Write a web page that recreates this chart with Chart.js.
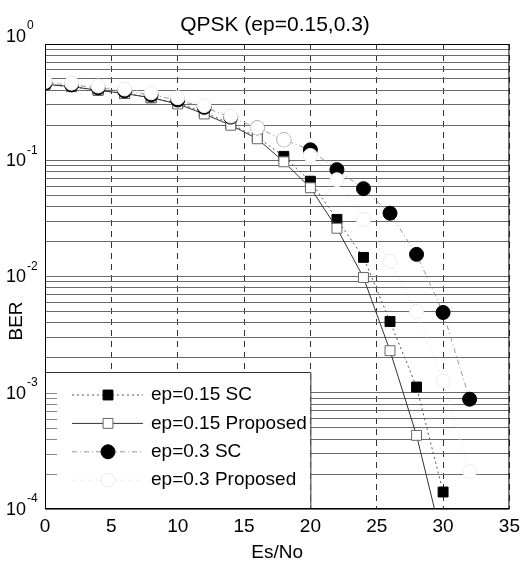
<!DOCTYPE html>
<html>
<head>
<meta charset="utf-8">
<script src="https://cdn.jsdelivr.net/npm/chart.js@4"></script>
<style>
  html, body { margin: 0; padding: 0; background: #fff; }
</style>
</head>
<body>
<canvas id="grafico" width="526" height="561"></canvas>
<script>
const ctx = document.getElementById('grafico').getContext('2d');
const FONTE = '"Liberation Sans", Arial, Helvetica, sans-serif';

// Es/No (dB)
const esno = [0, 2, 4, 6, 8, 10, 12, 14, 16, 18, 20, 22, 24, 26, 28, 30, 32];

// BER
const sc015   = [0.45, 0.43, 0.40, 0.375, 0.345, 0.31, 0.26, 0.205, 0.158, 0.108, 0.066, 0.031, 0.0146, 0.0041, 0.00112, 0.00014];
const prop015 = [0.45, 0.43, 0.40, 0.375, 0.345, 0.305, 0.25, 0.20, 0.153, 0.097, 0.058, 0.026, 0.0098, 0.0023, 0.00043, 0.00005];
const sc03    = [0.46, 0.445, 0.42, 0.395, 0.365, 0.33, 0.285, 0.235, 0.19, 0.15, 0.123, 0.083, 0.057, 0.035, 0.0155, 0.0049, 0.00088];
const prop03  = [0.475, 0.46, 0.435, 0.41, 0.38, 0.345, 0.295, 0.24, 0.19, 0.15, 0.11, 0.068, 0.031, 0.0135, 0.005, 0.00126, 0.00021];

const nomes = ['ep=0.15 SC', 'ep=0.15 Proposed', 'ep=0.3 SC', 'ep=0.3 Proposed'];
const titulo = 'QPSK (ep=0.15,0.3)';
const tituloY = 'BER';

const xTicks = [0, 5, 10, 15, 20, 25, 30, 35];
const decadas = [-4, -3, -2, -1, 0];
const mantissas = [1, 2, 3, 4, 5, 6, 7, 8, 9];

const yTicks = [];
decadas.forEach(e => {
  mantissas.forEach(m => {
    const v = m * Math.pow(10, e);
    if (v <= 1) yTicks.push(v);
  });
});

function pontos(valores) {
  return valores.map((v, i) => ({ x: esno[i], y: v }));
}

// legenda dentro da area do grafico (estilo MATLAB) + textos do eixo y
const legendaPlugin = {
  id: 'legenda',
  afterDatasetsDraw(chart) {
    const { ctx, chartArea } = chart;
    const xs = chart.scales.x;
    const ys = chart.scales.y;
    const left = chartArea.left;
    const right = xs.getPixelForValue(20);
    const bottom = chartArea.bottom;
    const top = bottom - 137;

    ctx.save();
    ctx.fillStyle = '#fff';
    ctx.fillRect(left, top, right - left, bottom - top);

    // marcas do eixo y por cima da legenda
    ctx.strokeStyle = '#888';
    ctx.lineWidth = 1;
    yTicks.forEach(v => {
      const y = Math.round(ys.getPixelForValue(v)) + 0.5;
      if (y > top && y < bottom) {
        ctx.beginPath();
        ctx.moveTo(left, y);
        ctx.lineTo(left + 12, y);
        ctx.stroke();
      }
    });

    ctx.strokeStyle = '#333';
    ctx.beginPath();
    ctx.moveTo(left, top + 0.5);
    ctx.lineTo(right + 0.5, top + 0.5);
    ctx.lineTo(right + 0.5, bottom);
    ctx.stroke();

    chart.data.datasets.forEach((ds, i) => {
      const y = top + 23 + i * 28.4;
      ctx.save();
      ctx.strokeStyle = ds.borderColor;
      ctx.lineWidth = ds.borderWidth;
      ctx.setLineDash(ds.borderDash || []);
      ctx.beginPath();
      ctx.moveTo(72, y);
      ctx.lineTo(143, y);
      ctx.stroke();
      ctx.restore();

      ctx.save();
      ctx.fillStyle = ds.pointBackgroundColor;
      ctx.strokeStyle = ds.pointBorderColor;
      ctx.lineWidth = ds.pointBorderWidth;
      Chart.helpers.drawPoint(ctx, {
        pointStyle: ds.pointStyle, rotation: 0,
        radius: ds.pointRadius, borderWidth: ds.pointBorderWidth
      }, 108, y);
      ctx.restore();

      ctx.fillStyle = '#000';
      ctx.font = '19px ' + FONTE;
      ctx.textAlign = 'left';
      ctx.textBaseline = 'middle';
      ctx.fillText(ds.label, 151, y);
    });
    ctx.restore();
  },
  afterDraw(chart) {
    const { ctx, chartArea } = chart;
    const ys = chart.scales.y;
    ctx.save();
    // moldura
    ctx.strokeStyle = '#000';
    ctx.lineWidth = 1;
    ctx.strokeRect(chartArea.left + 0.5, chartArea.top + 0.5,
      chartArea.right - chartArea.left - 1, chartArea.bottom - chartArea.top - 1);

    // titulo
    ctx.fillStyle = '#000';
    ctx.textAlign = 'center';
    ctx.textBaseline = 'middle';
    ctx.font = '21px ' + FONTE;
    ctx.fillText(titulo, 275, 25);

    // rotulo do eixo y
    ctx.save();
    ctx.translate(17, 321);
    ctx.rotate(-Math.PI / 2);
    ctx.font = '19px ' + FONTE;
    ctx.fillText(tituloY, 0, 0);
    ctx.restore();

    // rotulos 10^n
    decadas.forEach(e => {
      const y = ys.getPixelForValue(Math.pow(10, e)) + (e === 0 ? -7 : 1);
      const xExp = 26;
      ctx.font = '12px ' + FONTE;
      ctx.textAlign = 'left';
      ctx.fillText(String(e), xExp + 1, y - 11);
      ctx.font = '18px ' + FONTE;
      ctx.textAlign = 'right';
      ctx.fillText('10', xExp, y);
    });
    ctx.restore();
  }
};

const grafico = new Chart(ctx, {
  type: 'line',
  data: {
    datasets: [
      {
        label: nomes[0],
        data: pontos(sc015),
        borderColor: '#555',
        borderWidth: 1,
        borderDash: [2, 3],
        pointStyle: 'rect',
        pointRadius: 7,
        pointBackgroundColor: '#000',
        pointBorderColor: '#000',
        pointBorderWidth: 1,
        order: 4
      },
      {
        label: nomes[1],
        data: pontos(prop015),
        borderColor: '#333',
        borderWidth: 1,
        borderDash: [],
        pointStyle: 'rect',
        pointRadius: 7,
        pointBackgroundColor: '#fff',
        pointBorderColor: '#666',
        pointBorderWidth: 1,
        order: 3
      },
      {
        label: nomes[2],
        data: pontos(sc03),
        borderColor: '#999',
        borderWidth: 1,
        borderDash: [5, 3, 1, 3],
        pointStyle: 'circle',
        pointRadius: 7,
        pointBackgroundColor: '#000',
        pointBorderColor: '#000',
        pointBorderWidth: 1,
        order: 2
      },
      {
        label: nomes[3],
        data: pontos(prop03),
        borderColor: '#dcdcdc',
        borderWidth: 1,
        borderDash: [1, 3],
        pointStyle: 'circle',
        pointRadius: 7,
        pointBackgroundColor: '#fff',
        pointBorderColor: '#ebebeb',
        pointBorderWidth: 1,
        order: 1
      }
    ]
  },
  options: {
    responsive: false,
    animation: false,
    devicePixelRatio: 1,
    layout: { padding: { top: 44, right: 14, bottom: 0, left: 0 } },
    plugins: {
      legend: { display: false },
      tooltip: { enabled: false },
      title: { display: false }
    },
    scales: {
      x: {
        type: 'linear',
        min: 0,
        max: 35,
        afterBuildTicks(scale) {
          scale.ticks = xTicks.map(v => ({ value: v }));
        },
        afterFit(scale) { scale.height = 52; },
        ticks: {
          color: '#000',
          padding: 6,
          font: { family: FONTE, size: 19 }
        },
        grid: { color: '#333', lineWidth: 1, drawTicks: false },
        border: { display: false, dash: [6, 5] },
        title: {
          display: true,
          text: 'Es/No',
          color: '#000',
          font: { family: FONTE, size: 19, lineHeight: 0.85 },
          padding: { top: 0, bottom: 0 }
        }
      },
      y: {
        type: 'logarithmic',
        min: 1e-4,
        max: 1,
        afterBuildTicks(scale) {
          scale.ticks = yTicks.map(v => ({ value: v }));
        },
        afterFit(scale) { scale.width = 45; },
        ticks: { display: false },
        grid: { color: '#6a6a6a', lineWidth: 1, drawTicks: false },
        border: { display: false },
        title: { display: false }
      }
    }
  },
  plugins: [legendaPlugin]
});
</script>
</body>
</html>
